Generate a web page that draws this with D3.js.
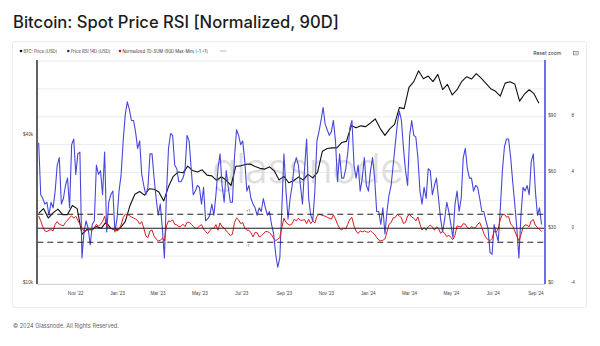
<!DOCTYPE html>
<html>
<head>
<meta charset="utf-8">
<script src="https://cdn.jsdelivr.net/npm/d3@7"></script>
<style>
  body { margin: 0; background: #fff; }
  svg { display: block; font-family: Inter, "Noto Sans", sans-serif; }
</style>
</head>
<body>
<div id="chart"></div>
<script>
// Series start dates and sampling steps
var rsiStart = new Date(2022, 8, 9);
var rsiStepDays = 3;
var priceStart = new Date(2022, 8, 9);
var priceStepDays = 7;

// Price RSI 14D, every 3 days
var rsiValues = [
  76, 48, 46, 43, 44, 37, 44, 41, 50, 64,
  68, 43, 46, 53, 57, 41, 75, 78, 59, 70,
  71, 14, 28, 34, 30, 21, 32, 34, 64, 59,
  61, 48, 71, 28, 44, 48, 50, 28, 35, 50,
  59, 77, 91, 98, 94, 88, 88, 82, 73, 77,
  59, 53, 48, 52, 70, 70, 57, 46, 37, 43,
  30, 14, 48, 73, 81, 80, 64, 62, 55, 55,
  57, 61, 80, 77, 62, 48, 50, 53, 52, 43,
  52, 34, 35, 37, 43, 37, 48, 62, 70, 53,
  44, 61, 52, 44, 44, 68, 83, 80, 75, 77,
  66, 50, 53, 46, 43, 41, 37, 41, 39, 46,
  41, 37, 39, 32, 27, 16, 9, 14, 41, 70,
  50, 35, 46, 53, 64, 68, 64, 53, 43, 62,
  78, 46, 37, 34, 50, 77, 82, 88, 95, 86,
  83, 80, 82, 88, 77, 55, 70, 57, 57, 62,
  71, 84, 88, 64, 57, 64, 50, 57, 68, 53,
  50, 61, 68, 57, 39, 39, 32, 41, 27, 39,
  48, 53, 64, 75, 86, 93, 88, 73, 61, 53,
  80, 88, 80, 79, 68, 50, 43, 52, 46, 62,
  61, 48, 53, 57, 46, 35, 28, 35, 44, 39,
  32, 25, 43, 50, 39, 46, 68, 73, 62, 57,
  57, 50, 53, 52, 46, 39, 39, 34, 30, 17,
  16, 32, 27, 23, 41, 61, 74, 78, 78, 68,
  55, 43, 30, 14, 37, 52, 50, 53, 48, 66,
  70, 50, 37, 41, 32
];

// Normalized 7D-SUM (90D Max-Min), every 3 days
var normValues = [
  0.89, 0.53, 0.1, -0.19, -0.24, -0.14, -0.1, -0.19, 0.29, 0.48,
  0.29, 0.22, 0.17, 0.43, 0.57, 0.77, 0.89, 0.72, 0.86, 0.57,
  0.29, 0, -0.19, -0.14, -0.12, -0.07, -0.14, 0, 0.29, 0.14,
  0.29, 0.48, 0.86, 0.17, 0, 0, -0.07, -0.14, -0.19, -0.1,
  0.24, 0.77, 1.0, 1.0, 0.91, 0.81, 0.74, 0.67, 0.55, 0.29,
  0.48, 0, -0.55, -0.67, -0.19, -0.12, -0.57, -0.77, -0.91, -0.86,
  -0.72, -0.91, 0.17, 0.53, 0.48, 0.6, 0.29, 0.24, 0.1, 0.14,
  0.29, 0.12, 0.43, 0.43, 0.29, 0.14, 0, 0, 0.17, 0.26,
  -0.05, -0.24, -0.38, -0.19, 0, -0.02, 0.26, -0.14, 0.38, 0.1,
  0.02, -0.19, -0.33, -0.53, -0.43, 0.41, 0.74, 0.6, 0.33, 0.41,
  0.02, -0.14, -0.14, -0.33, -0.62, -0.29, -0.33, -0.62, -0.55, -0.41,
  -0.24, -0.24, -0.31, -0.48, -0.72, -0.89, -0.79, -0.67, 0.05, 0.72,
  0.41, 0.29, 0.22, 0.33, 0.65, 0.53, 0.72, 0.57, 0.57, 0.62,
  0.33, 0.65, 0.33, 0.53, 0.38, 0.86, 1.0, 0.96, 0.91, 0.86,
  0.79, 0.72, 0.65, 0.96, 0.67, 0.29, 0, -0.12, 0, -0.05,
  0.29, 0.65, 0.77, 0.17, -0.19, -0.38, -0.19, -0.26, -0.19, -0.26,
  -0.29, -0.19, -0.31, -0.43, -0.67, -0.84, -0.91, -0.86, -0.77, -0.26,
  0.29, 0.41, 0.74, 0.77, 1.0, 0.89, 0.74, 0.33, 0.43, 0.89,
  0.98, 0.81, 0.72, 0.53, 0.81, 0.29, -0.14, 0.05, -0.14, 0.12,
  0.22, 0.1, -0.14, 0.1, 0, -0.36, -0.22, -0.38, -0.6, -0.5,
  -0.67, -0.81, -0.5, 0.17, 0.12, 0.1, 0.33, 0.29, 0.05, -0.05,
  0.12, 0.02, 0.05, 0.29, 0.41, 0.05, -0.38, -0.67, -0.81, -0.89,
  -0.74, -0.19, -0.29, 0, 0.65, 0.98, 1.0, 0.79, 0.84, 0.31,
  0.14, -0.19, -0.57, -0.89, -0.48, 0.07, 0.24, 0.22, 0.1, 0.53,
  0.62, 0.22, 0.05, -0.07, -0.24
];

// BTC price in thousands of USD, weekly
var priceK = [
  19.3, 20.2, 18.5, 19.4, 20.1, 19.1, 19.1, 20.8, 20.2, 15.9, 16.6, 16.6, 17.1, 16.8, 17.8, 16.8, 16.5,
  16.9, 17.9, 20.8, 23.1, 23.7, 22.9, 24.3, 24.2, 23.6, 21.7, 24.8, 27.3, 28.4, 28.2, 30.0, 28.8, 28.4,
  29.0, 27.6, 27.4, 26.3, 27.2, 26.3, 25.1, 30.0, 30.1, 30.5, 30.6, 29.9, 29.4, 29.2, 29.8, 28.7, 26.4,
  27.3, 25.7, 26.2, 27.1, 26.4, 27.8, 26.9, 28.4, 34.5, 35.4, 35.6, 35.6, 37.4, 37.8, 43.8, 42.9, 43.7, 43.4,
  44.9, 46.6, 42.7, 40.0, 42.5, 44.3, 51.8, 51.3, 62.5, 66.0, 73.0, 67.8, 69.5, 66.0, 70.6, 61.3, 64.3,
  58.3, 61.2, 66.2, 69.1, 67.6, 71.1, 68.2, 65.0, 61.8, 60.3, 57.7, 65.1, 65.9, 64.6, 55.0, 58.7, 61.2,
  59.0, 54.0
];

// Axis ticks
var xTickMonths = ["2022-11", "2023-01", "2023-03", "2023-05", "2023-07", "2023-09",
                   "2023-11", "2024-01", "2024-03", "2024-05", "2024-07", "2024-09"];
var priceTicks = [10000, 40000];
var rsiTicks = [0, 30, 60, 90];
var normTicks = [-4, 0, 4, 8];
var rsiGrid = [0, 15, 30, 45, 60, 75, 90, 105, 120];
var normBands = [-1, 1];

var legendItems = [
  { label: "BTC: Price [USD]", color: "#111" },
  { label: "Price RSI 14D [USD]", color: "#2c2c9c" },
  { label: "Normalized 7D-SUM (90D Max-Min) [-1 +1]", color: "#d0142c" }
];

function init() {
  var w = 600, h = 346;
  var left = 37.3, right = 545, top = 61, bottom = 284;

  var svg = d3.select("#chart").append("svg")
    .attr("width", w)
    .attr("height", h);

  svg.append("text")
    .attr("x", 13).attr("y", 28.3)
    .attr("font-size", 16.6).attr("font-weight", 500)
    .attr("fill", "#1c1c1c")
    .text("Bitcoin: Spot Price RSI [Normalized, 90D]");

  svg.append("rect")
    .attr("x", 12.5).attr("y", 41.5)
    .attr("width", 574).attr("height", 266)
    .attr("rx", 2)
    .attr("fill", "none").attr("stroke", "#ececec");

  // legend
  var lx = [21, 68.3, 120];
  var lg = svg.append("g").attr("font-size", 4.2).attr("fill", "#333");
  legendItems.forEach(function(d, i) {
    lg.append("circle").attr("cx", lx[i]).attr("cy", 51).attr("r", 1.3).attr("fill", d.color);
    lg.append("text").attr("x", lx[i] + 2.4).attr("y", 52.5).text(d.label);
  });
  lg.append("line").attr("x1", 220).attr("x2", 226.5).attr("y1", 51).attr("y2", 51)
    .attr("stroke", "#888").attr("stroke-width", 0.6);

  svg.append("text")
    .attr("x", 533.3).attr("y", 55)
    .attr("font-size", 5).attr("fill", "#333")
    .text("Reset zoom");
  svg.append("rect").attr("x", 573.5).attr("y", 51.3).attr("width", 4.6).attr("height", 3.6)
    .attr("fill", "none").attr("stroke", "#666").attr("stroke-width", 0.6);
  svg.append("line").attr("x1", 574.6).attr("x2", 577).attr("y1", 53.1).attr("y2", 53.1)
    .attr("stroke", "#666").attr("stroke-width", 0.5);

  var x = d3.scaleTime()
    .domain([new Date(2022, 8, 7), new Date(2024, 8, 15)])
    .range([left, right]);
  var yPrice = d3.scaleLog().domain([10000, 80000]).range([bottom, top]);
  var yRsi = d3.scaleLinear().domain([0, 120]).range([bottom, top]);
  var yNorm = d3.scaleLinear().domain([-4, 12]).range([bottom, top]);

  // grid
  svg.append("g").selectAll("line")
    .data(rsiGrid)
    .enter().append("line")
    .attr("x1", left).attr("x2", right)
    .attr("y1", function(d) { return yRsi(d); })
    .attr("y2", function(d) { return yRsi(d); })
    .attr("stroke", "#ececec").attr("stroke-width", 1);

  // watermark
  svg.append("text")
    .attr("x", 212).attr("y", 183)
    .attr("font-size", 41).attr("font-weight", 300)
    .attr("letter-spacing", -0.5)
    .attr("fill", "#dedede")
    .text("glassnode");

  // x axis
  var xAxis = d3.axisBottom(x)
    .tickValues(xTickMonths.map(function(s) { return d3.timeParse("%Y-%m")(s); }))
    .tickFormat(d3.timeFormat("%b '%y"))
    .tickSize(0)
    .tickPadding(7.7);
  var gx = svg.append("g")
    .attr("transform", "translate(0," + bottom + ")")
    .call(xAxis);
  gx.select(".domain").attr("stroke", "#d4d4d4");
  gx.selectAll("text").attr("font-size", 4.6).attr("fill", "#444").attr("font-family", null);

  // left price axis
  var gl = svg.append("g")
    .attr("transform", "translate(" + left + ",0)")
    .call(d3.axisLeft(yPrice).tickValues(priceTicks)
      .tickFormat(function(d) { return "$" + d / 1000 + "k"; })
      .tickSize(0).tickPadding(4.3));
  gl.select(".domain").remove();
  gl.selectAll("text").attr("font-size", 4.6).attr("fill", "#444").attr("dy", "-0.05em").attr("font-family", null);

  // right RSI axis
  var gr = svg.append("g")
    .attr("transform", "translate(" + right + ",0)")
    .call(d3.axisRight(yRsi).tickValues(rsiTicks)
      .tickFormat(function(d) { return "$" + d; })
      .tickSize(0).tickPadding(3.3));
  gr.select(".domain").remove();
  gr.selectAll("text").attr("font-size", 4.6).attr("fill", "#444").attr("dy", "-0.05em").attr("font-family", null);

  // right normalized axis
  var gn = svg.append("g")
    .attr("transform", "translate(" + right + ",0)")
    .call(d3.axisRight(yNorm).tickValues(normTicks)
      .tickFormat(function(d) { return d; })
      .tickSize(0).tickPadding(27.7));
  gn.select(".domain").remove();
  gn.selectAll("text").attr("font-size", 4.6).attr("fill", "#444")
    .attr("text-anchor", "middle").attr("dy", "-0.05em").attr("font-family", null);

  svg.append("clipPath").attr("id", "plot")
    .append("rect").attr("x", left).attr("y", top)
    .attr("width", right - left).attr("height", bottom - top);

  var plot = svg.append("g").attr("clip-path", "url(#plot)");

  var priceData = priceK.map(function(v, i) {
    return { date: d3.timeDay.offset(priceStart, i * priceStepDays), value: v * 1000 };
  });
  var rsiData = rsiValues.map(function(v, i) {
    return { date: d3.timeDay.offset(rsiStart, i * rsiStepDays), value: v };
  });
  var normData = normValues.map(function(v, i) {
    return { date: d3.timeDay.offset(rsiStart, i * rsiStepDays), value: v };
  });

  function lineFor(scale) {
    return d3.line()
      .x(function(d) { return x(d.date); })
      .y(function(d) { return scale(d.value); });
  }

  plot.append("path").datum(priceData)
    .attr("fill", "none").attr("stroke", "#111").attr("stroke-width", 1.1)
    .attr("stroke-linejoin", "round")
    .attr("d", lineFor(yPrice));

  plot.append("path").datum(rsiData)
    .attr("fill", "none").attr("stroke", "#4747dc").attr("stroke-width", 1.1)
    .attr("stroke-linejoin", "round")
    .attr("d", lineFor(yRsi));

  plot.append("path").datum(normData)
    .attr("fill", "none").attr("stroke", "#e0171c").attr("stroke-width", 1)
    .attr("stroke-linejoin", "round")
    .attr("d", lineFor(yNorm));

  // zero and +/-1 reference lines
  svg.append("line")
    .attr("x1", left).attr("x2", right)
    .attr("y1", yNorm(0)).attr("y2", yNorm(0))
    .attr("stroke", "#222").attr("stroke-width", 1.1);

  svg.append("g").selectAll("line")
    .data(normBands)
    .enter().append("line")
    .attr("x1", left).attr("x2", right)
    .attr("y1", function(d) { return yNorm(d); })
    .attr("y2", function(d) { return yNorm(d); })
    .attr("stroke", "#222").attr("stroke-width", 1.1)
    .attr("stroke-dasharray", "6,4");

  svg.append("g").selectAll("text")
    .data(normBands)
    .enter().append("text")
    .attr("x", 246)
    .attr("y", function(d) { return d > 0 ? yNorm(d) - 2.5 : yNorm(d) + 5; })
    .attr("font-size", 3.6).attr("fill", "#333")
    .text(function(d) { return d > 0 ? "+1" : "-1"; });

  // axis lines
  svg.append("line")
    .attr("x1", 37).attr("x2", 37).attr("y1", top - 1).attr("y2", bottom)
    .attr("stroke", "#3a3a3a").attr("stroke-width", 1.6);
  svg.append("line")
    .attr("x1", right).attr("x2", right).attr("y1", top - 1).attr("y2", bottom)
    .attr("stroke", "#7070ec").attr("stroke-width", 2);

  svg.append("text")
    .attr("x", 13).attr("y", 327.6)
    .attr("font-size", 5.6).attr("fill", "#666")
    .text("\u00a9 2024 Glassnode. All Rights Reserved.");
}

window.onload = init;
</script>
</body>
</html>
